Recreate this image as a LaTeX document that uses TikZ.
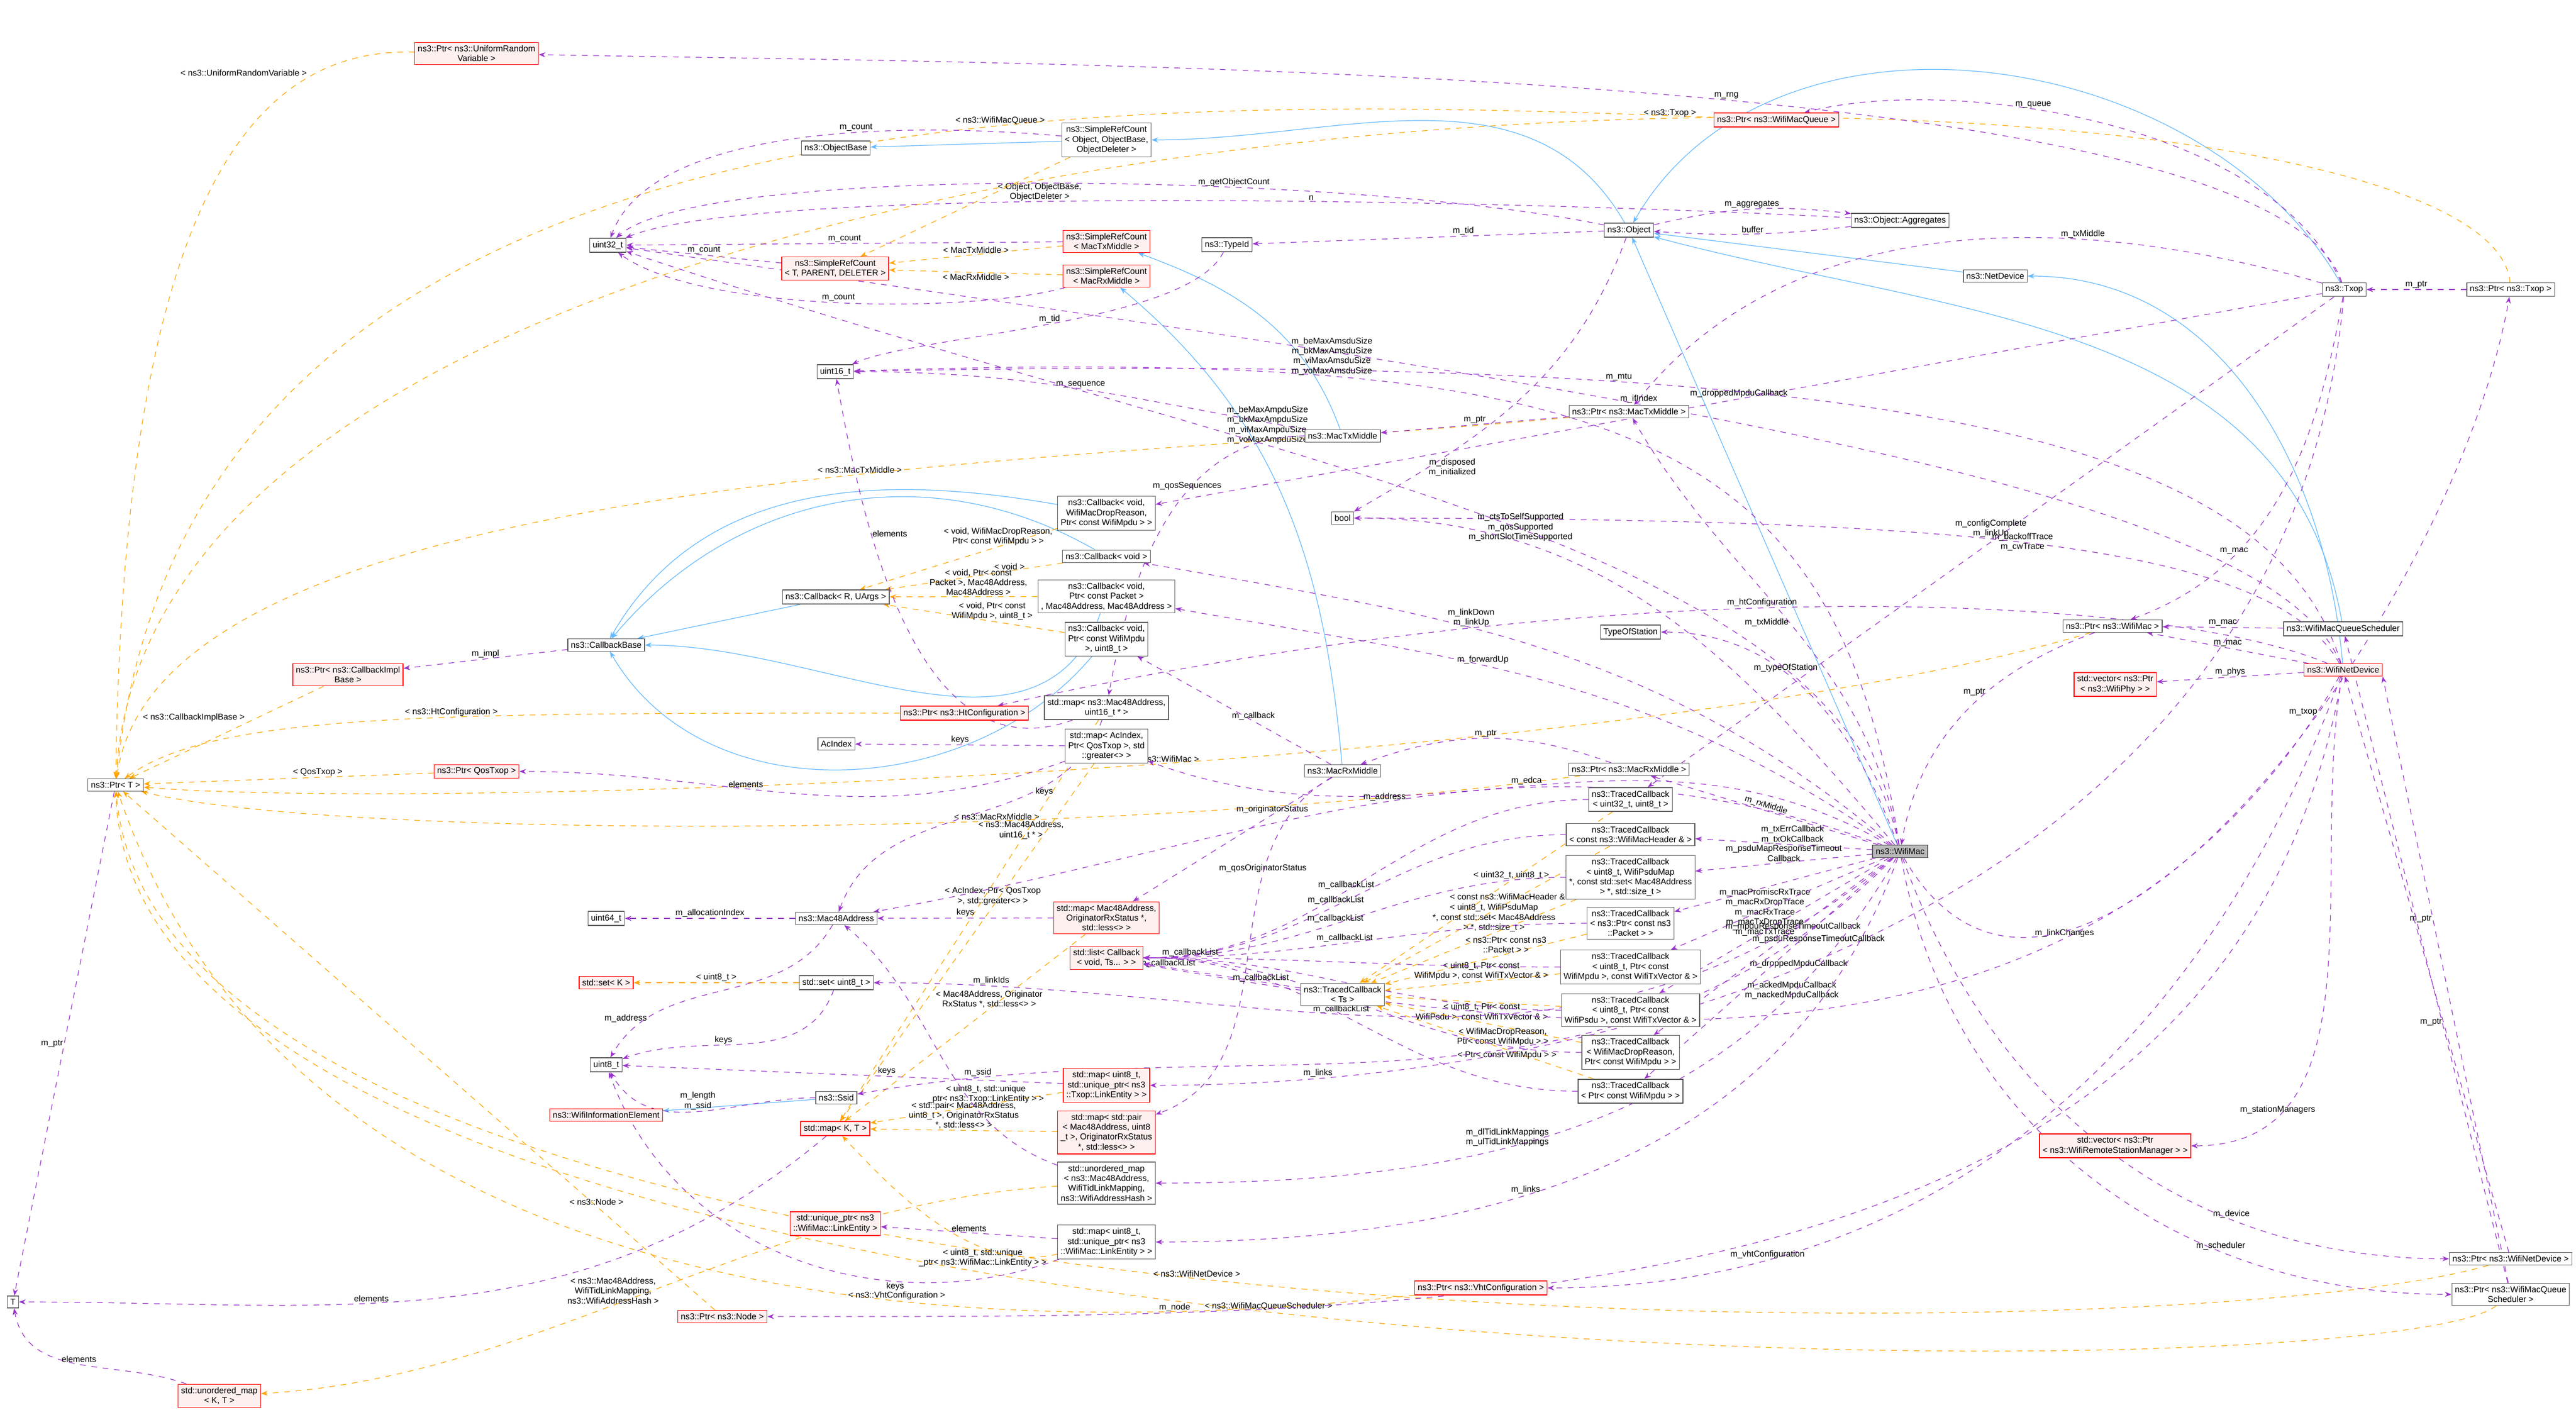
\documentclass[tikz,border=0pt]{standalone}
\usepackage{fontspec}
\setmainfont{Liberation Sans}
\usetikzlibrary{arrows.meta,positioning}
\pgfdeclarelayer{bg}
\pgfsetlayers{bg,main}

\definecolor{inhcol}{HTML}{63B8FF}
\definecolor{memcol}{HTML}{9A32CD}
\definecolor{tplcol}{HTML}{FFA500}

\tikzset{
 cls/.style={draw=gray!70!black, fill=white, align=center, inner sep=1.6pt, font=\fontsize{4.5}{5.2}\selectfont},
 redcls/.style={cls, draw=red, fill=red!6},
 maincls/.style={cls, fill=gray!55},
 inh/.style={draw=inhcol, line width=0.35pt, -{Stealth[length=3.5pt]}},
 mem/.style={draw=memcol, dashed, line width=0.35pt, -{Stealth[length=3.5pt]}},
 tpl/.style={draw=tplcol, dashed, line width=0.35pt, -{Stealth[length=3.5pt]}},
 lbl/.style={font=\fontsize{4.5}{5.2}\selectfont, align=center, inner sep=0.5pt}
}

\begin{document}
\begin{tikzpicture}
\useasboundingbox (0,0) rectangle (47.68,-26.10);

% left column
\node[cls] (T) at (0.24,-24.10) {T};
\node[cls] (PtrT) at (2.14,-14.53) {ns3::Ptr< T >};
\node[redcls] (UMapKT) at (4.06,-25.84) {std::unordered\_map\\< K, T >};
\node[redcls] (PtrURV) at (8.82,-0.99) {ns3::Ptr< ns3::UniformRandom\\Variable >};
\node[redcls] (PtrCbImpl) at (6.44,-12.49) {ns3::Ptr< ns3::CallbackImpl\\Base >};
\node[redcls] (PtrQosTxop) at (8.82,-14.28) {ns3::Ptr< QosTxop >};

% second column
\node[cls] (uint32) at (11.25,-4.54) {uint32\_t};
\node[cls] (CbBase) at (11.22,-11.94) {ns3::CallbackBase};
\node[cls] (uint64) at (11.22,-17.00) {uint64\_t};
\node[redcls] (SetK) at (11.22,-18.19) {std::set< K >};
\node[cls] (uint8) at (11.22,-19.71) {uint8\_t};
\node[redcls] (WifiIE) at (11.22,-20.64) {ns3::WifiInformationElement};
\node[redcls] (PtrNode) at (13.37,-24.37) {ns3::Ptr< ns3::Node >};

% third column
\node[cls] (ObjBase) at (15.47,-2.74) {ns3::ObjectBase};
\node[redcls] (SRCtpd) at (15.46,-4.97) {ns3::SimpleRefCount\\< T, PARENT, DELETER >};
\node[cls] (uint16) at (15.46,-6.88) {uint16\_t};
\node[cls] (CbRU) at (15.47,-11.05) {ns3::Callback< R, UArgs >};
\node[cls] (AcIndex) at (15.48,-13.77) {AcIndex};
\node[cls] (Mac48) at (15.48,-17.00) {ns3::Mac48Address};
\node[cls] (SetU8) at (15.48,-18.19) {std::set< uint8\_t >};
\node[cls] (Ssid) at (15.48,-20.32) {ns3::Ssid};
\node[redcls] (MapKT) at (15.46,-20.89) {std::map< K, T >};
\node[redcls] (UPtrLE) at (15.46,-22.65) {std::unique\_ptr< ns3\\::WifiMac::LinkEntity >};

% fourth column
\node[cls] (SRCobj) at (20.48,-2.59) {ns3::SimpleRefCount\\< Object, ObjectBase,\\ ObjectDeleter >};
\node[redcls] (SRCtx) at (20.48,-4.47) {ns3::SimpleRefCount\\< MacTxMiddle >};
\node[redcls] (SRCrx) at (20.48,-5.11) {ns3::SimpleRefCount\\< MacRxMiddle >};
\node[cls] (TypeId) at (22.71,-4.53) {ns3::TypeId};
\node[cls] (CbDrop) at (20.48,-9.50) {ns3::Callback< void,\\ WifiMacDropReason,\\ Ptr< const WifiMpdu > >};
\node[cls] (CbVoid) at (20.48,-10.30) {ns3::Callback< void >};
\node[cls] (CbPkt) at (20.48,-11.04) {ns3::Callback< void,\\ Ptr< const Packet >\\, Mac48Address, Mac48Address >};
\node[cls] (CbMpdu) at (20.48,-11.83) {ns3::Callback< void,\\ Ptr< const WifiMpdu\\ >, uint8\_t >};
\node[redcls] (PtrHt) at (17.85,-13.20) {ns3::Ptr< ns3::HtConfiguration >};
\node[cls] (MapM16) at (20.48,-13.10) {std::map< ns3::Mac48Address,\\ uint16\_t * >};
\node[cls] (MapAc) at (20.48,-13.81) {std::map< AcIndex,\\ Ptr< QosTxop >, std\\::greater<> >};
\node[redcls] (MapOrig) at (20.48,-16.99) {std::map< Mac48Address,\\ OriginatorRxStatus *,\\ std::less<> >};
\node[redcls] (ListCb) at (20.48,-17.73) {std::list< Callback\\< void, Ts... > >};
\node[redcls] (MapU8Txop) at (20.48,-20.09) {std::map< uint8\_t,\\ std::unique\_ptr< ns3\\::Txop::LinkEntity > >};
\node[redcls] (MapPair) at (20.48,-20.96) {std::map< std::pair\\< Mac48Address, uint8\\\_t >, OriginatorRxStatus\\ *, std::less<> >};
\node[cls] (UMapMac) at (20.48,-21.90) {std::unordered\_map\\< ns3::Mac48Address,\\ WifiTidLinkMapping,\\ ns3::WifiAddressHash >};
\node[cls] (MapU8Mac) at (20.48,-22.99) {std::map< uint8\_t,\\ std::unique\_ptr< ns3\\::WifiMac::LinkEntity > >};

% fifth column
\node[cls] (MacTx) at (24.85,-8.07) {ns3::MacTxMiddle};
\node[cls] (boolt) at (24.85,-9.59) {bool};
\node[cls] (MacRx) at (24.85,-14.27) {ns3::MacRxMiddle};
\node[cls] (TCTs) at (24.85,-18.41) {ns3::TracedCallback\\< Ts >};
\node[redcls] (PtrVht) at (27.41,-23.84) {ns3::Ptr< ns3::VhtConfiguration >};

% sixth column
\node[cls] (Object) at (30.15,-4.26) {ns3::Object};
\node[redcls] (PtrQueue) at (32.88,-2.22) {ns3::Ptr< ns3::WifiMacQueue >};
\node[cls] (PtrTxMid) at (30.15,-7.62) {ns3::Ptr< ns3::MacTxMiddle >};
\node[cls] (TypeOfSt) at (30.18,-11.70) {TypeOfStation};
\node[cls] (PtrRxMid) at (30.15,-14.24) {ns3::Ptr< ns3::MacRxMiddle >};
\node[cls] (TCu32) at (30.18,-14.80) {ns3::TracedCallback\\< uint32\_t, uint8\_t >};
\node[cls] (TCHdr) at (30.18,-15.45) {ns3::TracedCallback\\< const ns3::WifiMacHeader \& >};
\node[cls] (TCPsduMap) at (30.18,-16.24) {ns3::TracedCallback\\< uint8\_t, WifiPsduMap\\ *, const std::set< Mac48Address\\ > *, std::size\_t >};
\node[cls] (TCPkt) at (30.18,-17.09) {ns3::TracedCallback\\< ns3::Ptr< const ns3\\::Packet > >};
\node[cls] (TCMpduV) at (30.18,-17.90) {ns3::TracedCallback\\< uint8\_t, Ptr< const\\ WifiMpdu >, const WifiTxVector \& >};
\node[cls] (TCPsduV) at (30.18,-18.70) {ns3::TracedCallback\\< uint8\_t, Ptr< const\\ WifiPsdu >, const WifiTxVector \& >};
\node[cls] (TCDrop) at (30.18,-19.48) {ns3::TracedCallback\\< WifiMacDropReason,\\ Ptr< const WifiMpdu > >};
\node[cls] (TCMpdu) at (30.18,-20.20) {ns3::TracedCallback\\< Ptr< const WifiMpdu > >};

% right part
\node[cls] (ObjAgg) at (35.17,-4.08) {ns3::Object::Aggregates};
\node[maincls] (WifiMac) at (35.17,-15.76) {ns3::WifiMac};
\node[cls] (NetDev) at (36.93,-5.11) {ns3::NetDevice};
\node[cls] (PtrWMac) at (39.10,-11.59) {ns3::Ptr< ns3::WifiMac >};
\node[redcls] (VecPhy) at (39.15,-12.67) {std::vector< ns3::Ptr\\< ns3::WifiPhy > >};
\node[redcls] (VecRSM) at (39.15,-21.21) {std::vector< ns3::Ptr\\< ns3::WifiRemoteStationManager > >};
\node[cls] (Txop) at (43.39,-5.36) {ns3::Txop};
\node[cls] (WMQS) at (43.37,-11.64) {ns3::WifiMacQueueScheduler};
\node[redcls] (WND) at (43.37,-12.40) {ns3::WifiNetDevice};
\node[cls] (PtrTxop) at (46.47,-5.36) {ns3::Ptr< ns3::Txop >};
\node[cls] (PtrWND) at (46.47,-23.30) {ns3::Ptr< ns3::WifiNetDevice >};
\node[cls] (PtrWMQS) at (46.47,-23.96) {ns3::Ptr< ns3::WifiMacQueue\\ Scheduler >};

\begin{pgfonlayer}{bg}
% inheritance
\draw[inh] (SRCobj) -- (ObjBase);
\draw[inh] (Object) to[out=120,in=0] (SRCobj);
\draw[inh] (MacTx) to[out=110,in=-20] (SRCtx);
\draw[inh] (MacRx) to[out=95,in=-40] (SRCrx);
\draw[inh] (NetDev) -- (Object);
\draw[inh] (Txop) to[out=120,in=60] (Object);
\draw[inh] (WND) to[out=95,in=0] (NetDev);
\draw[inh] (WMQS) to[out=100,in=-15] (Object);
\draw[inh] (WifiMac) -- (Object);
\draw[inh] (CbDrop) to[out=170,in=60] (CbBase);
\draw[inh] (CbVoid) to[out=150,in=50] (CbBase);
\draw[inh] (CbRU) -- (CbBase);
\draw[inh] (CbPkt) to[out=-110,in=0] (CbBase);
\draw[inh] (CbMpdu) to[out=-130,in=-60] (CbBase);
\draw[inh] (Ssid) -- (WifiIE);

% templates
\draw[tpl] (PtrURV) .. controls (5,-0.9) and (2.3,-3) .. node[lbl,pos=0.25,above left]{< ns3::UniformRandomVariable >} (PtrT);
\draw[tpl] (PtrQueue) .. controls (20,-1.7) and (3.5,-1.5) .. node[lbl,pos=0.35,above]{< ns3::WifiMacQueue >} (PtrT);
\draw[tpl] (PtrTxop) .. controls (46,-0.2) and (3,-0.2) .. node[lbl,pos=0.4,above]{< ns3::Txop >} (PtrT);
\draw[tpl] (SRCobj) -- node[lbl,right,pos=0.35]{< Object, ObjectBase,\\ ObjectDeleter >} (SRCtpd);
\draw[tpl] (SRCtx) -- node[lbl,above]{< MacTxMiddle >} (SRCtpd);
\draw[tpl] (SRCrx) -- node[lbl,below]{< MacRxMiddle >} (SRCtpd);
\draw[tpl] (PtrTxMid) .. controls (20,-8.6) and (3,-8.6) .. node[lbl,pos=0.4,above]{< ns3::MacTxMiddle >} (PtrT);
\draw[tpl] (CbDrop) -- node[lbl,above,pos=0.3]{< void, WifiMacDropReason,\\ Ptr< const WifiMpdu > >} (CbRU);
\draw[tpl] (CbVoid) -- node[lbl,above,pos=0.3]{< void >} (CbRU);
\draw[tpl] (CbPkt) -- node[lbl,above,pos=0.4]{< void, Ptr< const\\ Packet >, Mac48Address,\\ Mac48Address >} (CbRU);
\draw[tpl] (CbMpdu) -- node[lbl,above,pos=0.4]{< void, Ptr< const\\ WifiMpdu >, uint8\_t >} (CbRU);
\draw[tpl] (PtrCbImpl) -- node[lbl,above left,pos=0.4]{< ns3::CallbackImplBase >} (PtrT);
\draw[tpl] (PtrHt) .. controls (8,-13.2) and (4,-13.2) .. node[lbl,above,pos=0.4]{< ns3::HtConfiguration >} (PtrT);
\draw[tpl] (PtrQosTxop) -- node[lbl,above,pos=0.4]{< QosTxop >} (PtrT);
\draw[tpl] (PtrWMac) .. controls (30,-14.3) and (8,-15) .. node[lbl,above,pos=0.45]{< ns3::WifiMac >} (PtrT);
\draw[tpl] (PtrRxMid) .. controls (20,-15.6) and (6,-15.5) .. node[lbl,above,pos=0.35]{< ns3::MacRxMiddle >} (PtrT);
\draw[tpl] (MapM16) -- node[lbl,above,pos=0.3]{< ns3::Mac48Address,\\ uint16\_t * >} (MapKT);
\draw[tpl] (MapAc) -- node[lbl,above,pos=0.4]{< AcIndex, Ptr< QosTxop\\ >, std::greater<> >} (MapKT);
\draw[tpl] (SetU8) -- node[lbl,above]{< uint8\_t >} (SetK);
\draw[tpl] (MapOrig) -- node[lbl,above,pos=0.4]{< Mac48Address, Originator\\ RxStatus *, std::less<> >} (MapKT);
\draw[tpl] (MapU8Txop) -- node[lbl,above,pos=0.4]{< uint8\_t, std::unique\\ \_ptr< ns3::Txop::LinkEntity > >} (MapKT);
\draw[tpl] (MapPair) -- node[lbl,above,pos=0.5]{< std::pair< Mac48Address,\\ uint8\_t >, OriginatorRxStatus\\ *, std::less<> >} (MapKT);
\draw[tpl] (MapU8Mac) .. controls (18,-23.6) and (16.5,-22) .. node[lbl,below,pos=0.3]{< uint8\_t, std::unique\\ \_ptr< ns3::WifiMac::LinkEntity > >} (MapKT);
\draw[tpl] (UMapMac) .. controls (14,-22.3) and (10,-25.5) .. node[lbl,above,pos=0.55]{< ns3::Mac48Address,\\ WifiTidLinkMapping,\\ ns3::WifiAddressHash >} (UMapKT);
\draw[tpl] (PtrVht) .. controls (15,-25.2) and (5,-23) .. node[lbl,above,pos=0.3]{< ns3::VhtConfiguration >} (PtrT);
\draw[tpl] (PtrNode) -- node[lbl,above,pos=0.2]{< ns3::Node >} (PtrT);
\draw[tpl] (PtrWND) .. controls (40,-25.2) and (3,-25.2) .. node[lbl,above,pos=0.5]{< ns3::WifiNetDevice >} (PtrT);
\draw[tpl] (PtrWMQS) .. controls (44,-25.9) and (2.5,-25.9) .. node[lbl,above,pos=0.5]{< ns3::WifiMacQueueScheduler >} (PtrT);
\draw[tpl] (TCu32) -- node[lbl,above,pos=0.4]{< uint32\_t, uint8\_t >} (TCTs);
\draw[tpl] (TCHdr) -- node[lbl,above,pos=0.4]{< const ns3::WifiMacHeader \& >} (TCTs);
\draw[tpl] (TCPsduMap) -- node[lbl,above,pos=0.4]{< uint8\_t, WifiPsduMap\\ *, const std::set< Mac48Address\\ > *, std::size\_t >} (TCTs);
\draw[tpl] (TCPkt) -- node[lbl,above,pos=0.4]{< ns3::Ptr< const ns3\\::Packet > >} (TCTs);
\draw[tpl] (TCMpduV) -- node[lbl,above,pos=0.45]{< uint8\_t, Ptr< const\\ WifiMpdu >, const WifiTxVector \& >} (TCTs);
\draw[tpl] (TCPsduV) -- node[lbl,below,pos=0.45]{< uint8\_t, Ptr< const\\ WifiPsdu >, const WifiTxVector \& >} (TCTs);
\draw[tpl] (TCDrop) -- node[lbl,below,pos=0.4]{< WifiMacDropReason,\\ Ptr< const WifiMpdu > >} (TCTs);
\draw[tpl] (TCMpdu) -- node[lbl,below,pos=0.4]{< Ptr< const WifiMpdu > >} (TCTs);

% members
\draw[mem] (SRCobj) .. controls (16,-2.2) and (12,-2.5) .. node[lbl,above,pos=0.35]{m\_count} (uint32);
\draw[mem] (SRCtx) -- node[lbl,above,pos=0.5]{m\_count} (uint32);
\draw[mem] (SRCtpd) -- node[lbl,above]{m\_count} (uint32);
\draw[mem] (SRCrx) .. controls (18,-5.8) and (13,-5.8) .. node[lbl,above,pos=0.5]{m\_count} (uint32);
\draw[mem] (Object) .. controls (25,-3.2) and (13,-3.0) .. node[lbl,above,pos=0.35]{m\_getObjectCount} (uint32);
\draw[mem] (ObjAgg) .. controls (28,-3.7) and (14,-3.4) .. node[lbl,above,pos=0.4]{n} (uint32);
\draw[mem] (TypeId) .. controls (22,-6) and (17,-6.2) .. node[lbl,above,pos=0.5]{m\_tid} (uint16);
\draw[mem] (Object) -- node[lbl,above,pos=0.4]{m\_tid} (TypeId);
\draw[mem] (Object) to[bend left=10] node[lbl,above]{m\_aggregates} (ObjAgg);
\draw[mem] (ObjAgg) to[bend left=5] node[lbl,above]{buffer} (Object);
\draw[mem] (Object) to[out=-110,in=30] node[lbl,right,pos=0.8]{m\_disposed\\ m\_initialized} (boolt);
\draw[mem] (Txop) .. controls (42,-1.2) and (20,-1.2) .. node[lbl,above,pos=0.45]{m\_rng} (PtrURV);
\draw[mem] (Txop) .. controls (42,-2.2) and (36,-1.4) .. node[lbl,above,pos=0.6]{m\_queue} (PtrQueue);
\draw[mem] (Txop) .. controls (38,-3.8) and (33,-4) .. node[lbl,above,pos=0.3]{m\_txMiddle} (PtrTxMid);
\draw[mem] (Txop) -- node[lbl,above,pos=0.5]{m\_droppedMpduCallback} (CbDrop);
\draw[mem] (Txop) to[out=-100,in=20] node[lbl,above,pos=0.7]{m\_mac} (PtrWMac);
\draw[mem] (Txop) to[out=-95,in=0] node[lbl,above,pos=0.9]{m\_links} (MapU8Txop);
\draw[mem] (Txop) -- node[lbl,right,pos=0.5]{m\_backoffTrace\\ m\_cwTrace} (TCu32);
\draw[mem] (PtrTxop) -- node[lbl,above]{m\_ptr} (Txop);
\draw[mem] (WND) .. controls (42,-8) and (35,-6.5) .. node[lbl,above,pos=0.7]{m\_mtu} (uint16);
\draw[mem] (WND) .. controls (42,-9) and (30,-7.2) .. node[lbl,above,pos=0.6]{m\_ifIndex} (uint32);
\draw[mem] (WND) .. controls (42,-10) and (36,-9.6) .. node[lbl,above,pos=0.55]{m\_configComplete\\ m\_linkUp} (boolt);
\draw[mem] (WND) .. controls (40,-11) and (30,-10.5) .. node[lbl,above,pos=0.55]{m\_htConfiguration} (PtrHt);
\draw[mem] (WND) -- node[lbl,above]{m\_mac} (PtrWMac);
\draw[mem] (WND) -- node[lbl,above]{m\_phys} (VecPhy);
\draw[mem] (WND) to[out=-100,in=0] node[lbl,above,pos=0.8]{m\_stationManagers} (VecRSM);
\draw[mem] (WND) to[out=-100,in=0] node[lbl,above,pos=0.8]{m\_node} (PtrNode);
\draw[mem] (WND) to[out=-110,in=0] node[lbl,above,pos=0.8]{m\_vhtConfiguration} (PtrVht);
\draw[mem] (WND) to[out=-120,in=-10] node[lbl,above,pos=0.3]{m\_linkChanges} (ListCb);
\draw[mem] (PtrWND) -- node[lbl,left,pos=0.4]{m\_ptr} (WND);
\draw[mem] (PtrWMQS) -- node[lbl,left,pos=0.6]{m\_ptr} (WND.south east);
\draw[mem] (PtrWMQS) -- (WMQS);
\draw[mem] (WMQS) -- node[lbl,above]{m\_mac} (PtrWMac);
\draw[mem] (PtrWMac) to[out=-160,in=80] node[lbl,left,pos=0.4]{m\_ptr} (WifiMac);
\draw[mem] (MacTx) to[out=170,in=0] node[lbl,above,pos=0.5]{m\_sequence} (uint16);
\draw[mem] (MacTx) to[out=180,in=80] node[lbl,above,pos=0.4]{m\_qosSequences} (MapM16);
\draw[mem] (PtrTxMid) -- node[lbl,above]{m\_ptr} (MacTx);
\draw[mem] (PtrRxMid) to[out=160,in=20] node[lbl,above]{m\_ptr} (MacRx);
\draw[mem] (MacRx) -- node[lbl,above,pos=0.3]{m\_originatorStatus} (MapOrig);
\draw[mem] (MacRx) to[out=-150,in=20] node[lbl,above,pos=0.3]{m\_qosOriginatorStatus} (MapPair);
\draw[mem] (MacRx) -- node[lbl,above,pos=0.4]{m\_callback} (CbMpdu);
\draw[mem] (CbBase) -- node[lbl,above]{m\_impl} (PtrCbImpl);
\draw[mem] (Mac48) -- node[lbl,above]{m\_allocationIndex} (uint64);
\draw[mem] (Mac48) to[out=-120,in=60] node[lbl,left,pos=0.8]{m\_address} (uint8);
\draw[mem] (SetU8) to[out=-110,in=20] node[lbl,above,pos=0.6]{keys} (uint8);
\draw[mem] (Ssid) to[out=180,in=-60] node[lbl,above,pos=0.5]{m\_length\\ m\_ssid} (uint8);
\draw[mem] (MapAc) -- node[lbl,above]{keys} (AcIndex);
\draw[mem] (MapAc) to[out=-160,in=0] node[lbl,above,pos=0.6]{elements} (PtrQosTxop);
\draw[mem] (MapM16) to[out=-110,in=70] node[lbl,right,pos=0.3]{keys} (Mac48);
\draw[mem] (MapM16) to[out=-160,in=-80] node[lbl,right,pos=0.7]{elements} (uint16);
\draw[mem] (MapOrig) -- node[lbl,above]{keys} (Mac48);
\draw[mem] (MapU8Txop) -- node[lbl,above,pos=0.4]{keys} (uint8);
\draw[mem] (MapKT) to[out=-140,in=0] node[lbl,above,pos=0.6]{elements} (T);
\draw[mem] (UMapKT) to[out=160,in=-80] node[lbl,right,pos=0.6]{elements} (T);
\draw[mem] (PtrT) -- node[lbl,left]{m\_ptr} (T);
\draw[mem] (MapU8Mac) -- node[lbl,above]{elements} (UPtrLE);
\draw[mem] (MapU8Mac) to[out=-160,in=-70] node[lbl,below,pos=0.3]{keys} (uint8);
\draw[mem] (UMapMac) to[out=160,in=-40] (Mac48);
\foreach \tc/\p/\s in {TCu32/0.55/above,TCHdr/0.55/above,TCPsduMap/0.55/above,TCPkt/0.55/above,TCMpduV/0.9/above,TCPsduV/0.95/below,TCDrop/0.75/below,TCMpdu/0.55/above}
  \draw[mem] (\tc) to[out=180,in=0] node[lbl,\s,pos=\p]{m\_callbackList} (ListCb);
\draw[mem] (TCTs) -- (ListCb);
% WifiMac members
\draw[mem] (WifiMac) -- node[lbl,above,sloped,pos=0.5]{m\_rxMiddle} (PtrRxMid);
\draw[mem] (WifiMac) -- node[lbl,above,pos=0.45]{m\_txErrCallback\\ m\_txOkCallback} (TCHdr);
\draw[mem] (WifiMac) -- node[lbl,above,pos=0.5]{m\_psduMapResponseTimeout\\ Callback} (TCPsduMap);
\draw[mem] (WifiMac) -- node[lbl,below,pos=0.55]{m\_macPromiscRxTrace\\ m\_macRxDropTrace\\ m\_macRxTrace\\ m\_macTxDropTrace\\ m\_macTxTrace} (TCPkt);
\draw[mem] (WifiMac) -- node[lbl,right,pos=0.75]{m\_mpduResponseTimeoutCallback} (TCMpduV);
\draw[mem] (WifiMac) -- node[lbl,right,pos=0.6]{m\_psduResponseTimeoutCallback} (TCPsduV);
\draw[mem] (WifiMac) -- node[lbl,right,pos=0.6]{m\_droppedMpduCallback} (TCDrop);
\draw[mem] (WifiMac) -- node[lbl,right,pos=0.6]{m\_ackedMpduCallback\\ m\_nackedMpduCallback} (TCMpdu);
\draw[mem] (WifiMac) to[out=100,in=-60] node[lbl,left,pos=0.5]{m\_txMiddle} (PtrTxMid);
\draw[mem] (WifiMac) to[out=110,in=0] node[lbl,above,pos=0.6]{m\_typeOfStation} (TypeOfSt);
\draw[mem] (WifiMac) to[out=130,in=0] node[lbl,above,pos=0.75]{m\_ctsToSelfSupported\\ m\_qosSupported\\ m\_shortSlotTimeSupported} (boolt);
\draw[mem] (WifiMac) to[out=140,in=-10] node[lbl,above,pos=0.6]{m\_linkDown\\ m\_linkUp} (CbVoid);
\draw[mem] (WifiMac) to[out=145,in=-10] node[lbl,above,pos=0.6]{m\_forwardUp} (CbPkt);
\draw[mem] (WifiMac) to[out=150,in=-20] node[lbl,above,pos=0.5]{m\_edca} (MapAc);
\draw[mem] (WifiMac) to[out=160,in=10] node[lbl,above,pos=0.5]{m\_address} (Mac48);
\draw[mem] (WifiMac) .. controls (34,-8) and (30,-6.4) .. node[lbl,above,pos=0.75]{m\_beMaxAmsduSize\\ m\_bkMaxAmsduSize\\ m\_viMaxAmsduSize\\ m\_voMaxAmsduSize} (uint16);
\draw[mem] (WifiMac) .. controls (34,-10) and (24,-8.8) .. node[lbl,above,pos=0.65]{m\_beMaxAmpduSize\\ m\_bkMaxAmpduSize\\ m\_viMaxAmpduSize\\ m\_voMaxAmpduSize} (uint32);
\draw[mem] (WifiMac) to[out=-140,in=0] node[lbl,above,pos=0.9]{m\_linkIds} (SetU8);
\draw[mem] (WifiMac) to[out=-135,in=10] node[lbl,above,pos=0.9]{m\_ssid} (Ssid);
\draw[mem] (WifiMac) to[out=-120,in=0] node[lbl,above,pos=0.6]{m\_dlTidLinkMappings\\ m\_ulTidLinkMappings} (UMapMac);
\draw[mem] (WifiMac) to[out=-110,in=0] node[lbl,above,pos=0.6]{m\_links} (MapU8Mac);
\draw[mem] (WifiMac) to[out=-70,in=180] node[lbl,above,pos=0.7]{m\_device} (PtrWND);
\draw[mem] (WifiMac) to[out=-80,in=180] node[lbl,above,pos=0.7]{m\_scheduler} (PtrWMQS);
\draw[mem] (WifiMac) to[out=-60,in=-100] node[lbl,left,pos=0.6]{m\_txop} (PtrTxop);
\end{pgfonlayer}
\end{tikzpicture}
\end{document}
